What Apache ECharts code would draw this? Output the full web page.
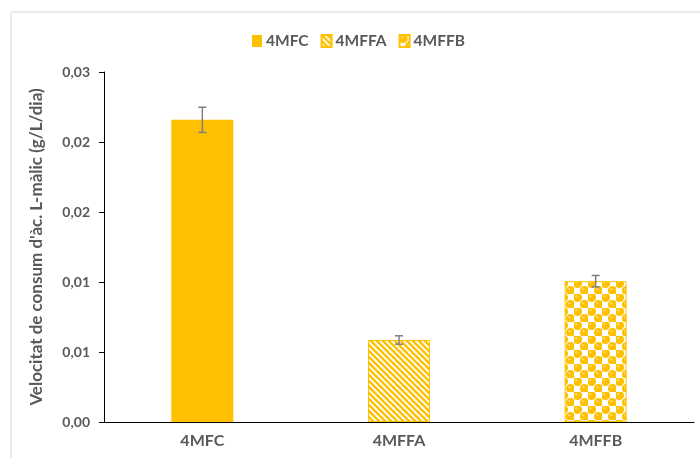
<!DOCTYPE html>
<html>
<head>
<meta charset="utf-8">
<script src="https://cdn.jsdelivr.net/npm/echarts@6/dist/echarts.min.js"></script>
<style>html,body{margin:0;padding:0;background:#fff}#c{width:700px;height:458px}</style>
</head>
<body>
<div id="c"></div>
<script>
var categories = ['4MFC', '4MFFA', '4MFFB'];
var seriesNames = ['4MFC', '4MFFA', '4MFFB'];
var values = [0.0259, 0.00703, 0.01207];
var errors = [0.00108, 0.00036, 0.00049];
var yTicks = { min: 0, max: 0.03, interval: 0.006 };
var yTitle = "Velocitat de consum d'àc. L-màlic (g/L/dia)";

var YEL = '#FFC000';
var FONT = 'Lato';

function stripePattern() {
  var c = document.createElement('canvas');
  c.width = 6; c.height = 6;
  var g = c.getContext('2d');
  g.fillStyle = '#fff'; g.fillRect(0, 0, 6, 6);
  g.strokeStyle = YEL; g.lineWidth = 2.4;
  for (var k = -2; k <= 2; k++) {
    g.beginPath();
    g.moveTo(k * 6 - 1, -1);
    g.lineTo(k * 6 + 7, 7);
    g.stroke();
  }
  return c;
}
function ballPattern() {
  var c = document.createElement('canvas');
  c.width = 14; c.height = 14;
  var g = c.getContext('2d');
  g.fillStyle = '#fff'; g.fillRect(0, 0, 14, 14);
  g.fillStyle = YEL;
  var pts = [[3.5, 3.5], [10.5, 10.5]];
  pts.forEach(function (p) {
    g.beginPath(); g.arc(p[0], p[1], 4.6, 0, Math.PI * 2); g.fill();
  });
  g.fillStyle = '#FFD966';
  pts.forEach(function (p) {
    g.beginPath(); g.arc(p[0] - 1.2, p[1] - 1.2, 1.2, 0, Math.PI * 2); g.fill();
  });
  return c;
}

var fills = [
  YEL,
  { image: stripePattern(), repeat: 'repeat' },
  { image: ballPattern(), repeat: 'repeat' }
];

var series = seriesNames.map(function (name, i) {
  var d = categories.map(function (_, j) { return j === i ? values[i] : '-'; });
  return {
    name: name, type: 'bar', stack: 'all', barWidth: 62,
    data: d,
    itemStyle: { color: fills[i], borderColor: YEL, borderWidth: i === 0 ? 0 : 1 },
    z: 2
  };
});

series.push({
  type: 'custom', name: 'err', z: 5,
  data: values.map(function (v, i) { return [i, v - errors[i], v + errors[i]]; }),
  renderItem: function (params, api) {
    var x = api.value(0);
    var lo = api.coord([x, api.value(1)]);
    var hi = api.coord([x, api.value(2)]);
    var w = 4;
    var st = { stroke: '#7F7F7F', lineWidth: 1.5 };
    return {
      type: 'group', children: [
        { type: 'line', shape: { x1: lo[0], y1: lo[1], x2: hi[0], y2: hi[1] }, style: st },
        { type: 'line', shape: { x1: lo[0] - w, y1: lo[1], x2: lo[0] + w, y2: lo[1] }, style: st },
        { type: 'line', shape: { x1: hi[0] - w, y1: hi[1], x2: hi[0] + w, y2: hi[1] }, style: st }
      ]
    };
  },
  encode: { x: 0, y: [1, 2] },
  silent: true
});

var chart = echarts.init(document.getElementById('c'), null, { renderer: 'canvas' });
chart.setOption({
  animation: false,
  backgroundColor: '#fff',
  graphic: [{
    type: 'rect', shape: { x: 11, y: 12, width: 760, height: 500 },
    style: { fill: 'none', stroke: '#D9D9D9', lineWidth: 1 }, z: -1, silent: true
  }],
  legend: {
    data: seriesNames, top: 28, left: 247, icon: 'rect',
    itemWidth: 10, itemHeight: 12, itemGap: 12,
    textStyle: { fontFamily: FONT, fontWeight: 'bold', fontSize: 15.5, color: '#595959', padding: [0, 0, 0, -1] }
  },
  grid: { left: 104, right: 6, top: 72, bottom: 36 },
  xAxis: {
    type: 'category', data: categories,
    axisLine: { lineStyle: { color: '#000', width: 1 } },
    axisTick: { show: false },
    axisLabel: { fontFamily: FONT, fontWeight: 'bold', fontSize: 16, color: '#595959', margin: 11 }
  },
  yAxis: {
    type: 'value', min: yTicks.min, max: yTicks.max, interval: yTicks.interval,
    name: yTitle, nameLocation: 'middle', nameGap: 59,
    nameTextStyle: { fontFamily: FONT, fontWeight: 'bold', fontSize: 17, color: '#595959' },
    axisLine: { show: true, lineStyle: { color: '#000', width: 1 } },
    axisTick: { show: true, length: 5, lineStyle: { color: '#000' } },
    splitLine: { show: false },
    axisLabel: {
      fontFamily: FONT, fontWeight: 'bold', fontSize: 14, color: '#595959', margin: 14,
      formatter: function (v) { return v.toFixed(2).replace('.', ','); }
    }
  },
  series: series
});
</script>
</body>
</html>
